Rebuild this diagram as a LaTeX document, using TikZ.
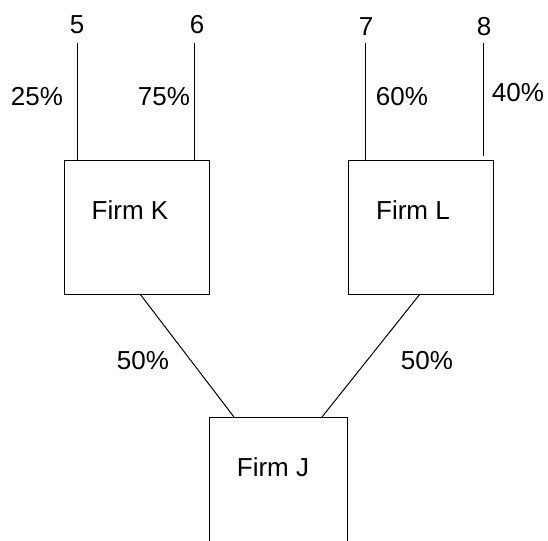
\documentclass[tikz,border=0pt]{standalone}
\usepackage{fontspec}
\setmainfont{Liberation Sans}
\usetikzlibrary{positioning}

\begin{document}
\begin{tikzpicture}[x=1pt, y=-1pt,
        % Define node styles
        firm/.style={rectangle, draw, line width=1pt, anchor=north west, inner sep=0pt, minimum width=145pt, minimum height=134pt},
        lbl/.style={inner sep=0pt, font=\fontsize{26}{30}\selectfont},
        share/.style={line width=1pt}
    ]
    \useasboundingbox (0,0) rectangle (548,540);
    \clip (0,0) rectangle (548,540);

    % Firms
    \node[firm] (k) at (64,160) {};
    \node[firm] (l) at (348,160) {};
    \node[firm, minimum width=138pt, minimum height=150pt] (j) at (209,417) {};
    \node[lbl] (kname) at (130,210) {Firm K};
    \node[lbl] (lname) at (413,210) {Firm L};
    \node[lbl] (jname) at (273,467) {Firm J};

    % Owners on top
    \node[lbl] (n5) at (77,25) {5};
    \node[lbl] (n6) at (197,25) {6};
    \node[lbl] (n7) at (366,27) {7};
    \node[lbl] (n8) at (484,27) {8};
    \coordinate (t5) at (77,43);
    \coordinate (t6) at (194,43);
    \coordinate (t7) at (365,43);
    \coordinate (t8) at (483,43);
    \coordinate (b8) at (483,156);

    % Shares held in K and L
    \draw[share] (t5) -- (t5 |- k.north);
    \draw[share] (t6) -- (t6 |- k.north);
    \draw[share] (t7) -- (t7 |- l.north);
    \draw[share] (t8) -- (b8);
    \node[lbl] (p5) at (37,97) {25\%};
    \node[lbl] (p6) at (164,97) {75\%};
    \node[lbl] (p7) at (402,97) {60\%};
    \node[lbl] (p8) at (518,93) {40\%};

    % K and L hold J
    \coordinate (kb) at (140,294);
    \coordinate (lb) at (420,294);
    \coordinate (jl) at (234,417);
    \coordinate (jr) at (322,417);
    \draw[share] (kb) -- (jl);
    \draw[share] (lb) -- (jr);
    \node[lbl] (pk) at (143,361) {50\%};
    \node[lbl] (pl) at (427,361) {50\%};

\end{tikzpicture}
\end{document}
